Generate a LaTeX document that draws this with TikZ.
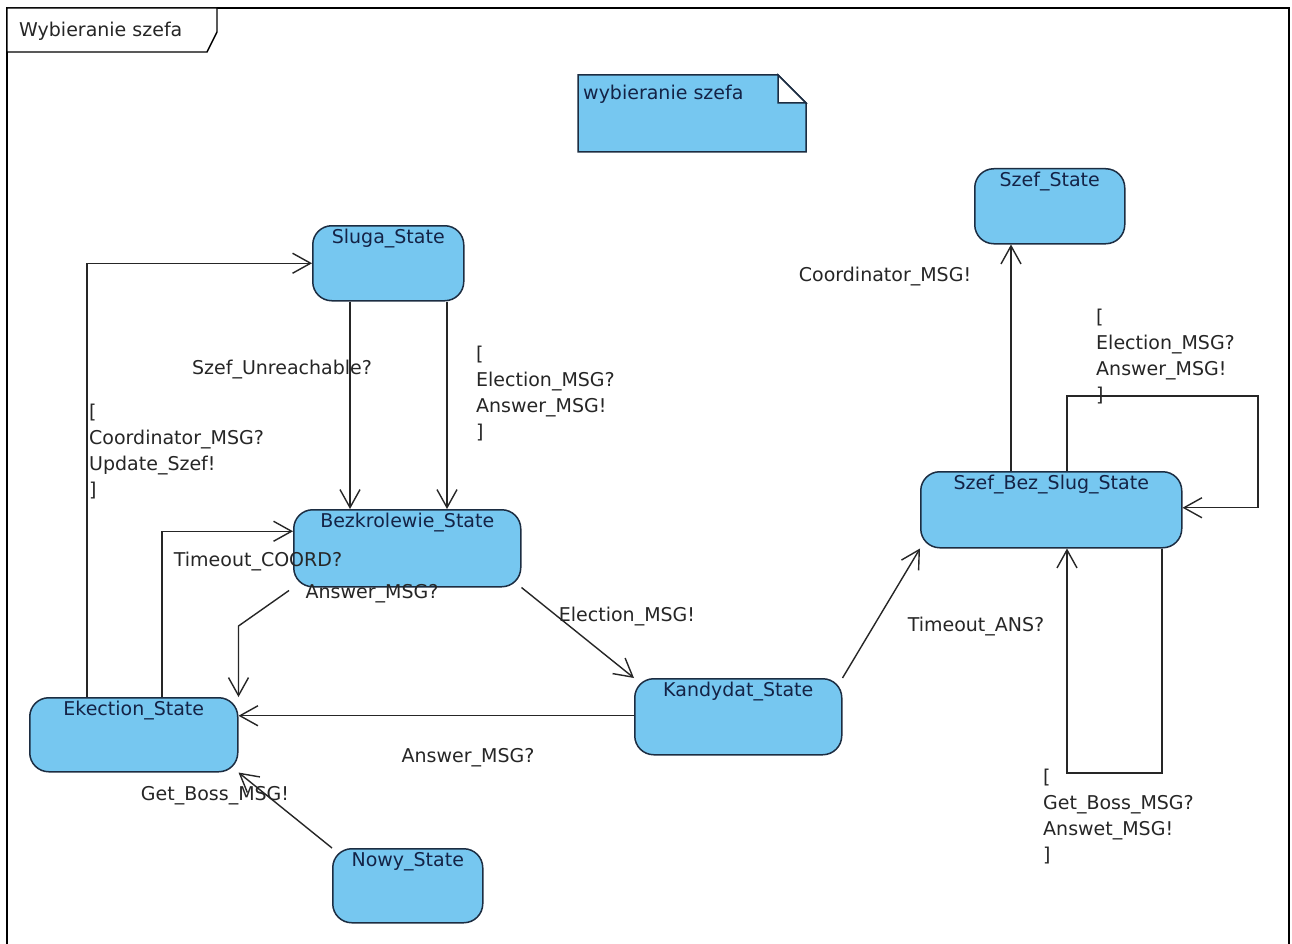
\documentclass[tikz,border=0pt]{standalone}
\usepackage{fontspec}
\setmainfont{DejaVu Sans}
\usetikzlibrary{arrows.meta,calc}
\definecolor{stfill}{RGB}{118,199,240}
\definecolor{stline}{RGB}{28,45,66}
\definecolor{sttext}{RGB}{20,35,70}
\begin{document}
\begin{tikzpicture}[x=1pt,y=-1pt,
  state/.style={draw=stline, fill=stfill, line width=1.5pt, rounded corners=19pt, inner sep=0pt, anchor=north west},
  stlabel/.style={text=sttext, font=\fontsize{19}{26}\selectfont, inner sep=0pt},
  tlabel/.style={text=black!85, font=\fontsize{19}{26}\selectfont, inner sep=0pt, align=left},
  tr/.style={draw=black!85, line width=1.4pt, -{Straight Barb[length=18pt,width=20pt]}}]
\useasboundingbox (0,0) rectangle (1292,944);
\fill[white] (0,0) rectangle (1292,944);

% frame
\draw[black, line width=1.4pt] (7,944) -- (7,8) -- (1289,8) -- (1289,944);
\filldraw[fill=white, draw=black, line width=1.4pt] (7,8) -- (217,8) -- (217,32) -- (207,52) -- (7,52) -- cycle;
\node[tlabel, anchor=west] (frameT) at (19,31) {Wybieranie szefa};

% note
\filldraw[fill=stfill, draw=stline, line width=1.5pt] (578,75) -- (778,75) -- (806,103) -- (806,152) -- (578,152) -- cycle;
\filldraw[fill=white, draw=stline, line width=1.5pt] (778,75) -- (778,103) -- (806,103) -- cycle;
\node[stlabel, anchor=west] (noteT) at (583,94) {wybieranie szefa};

% states
\node[state, minimum width=150pt, minimum height=75pt] (szef) at (974,168) {};
\node[stlabel] (szefT) at ([yshift=-14pt]szef.north) {Szef\_State};
\node[state, minimum width=151pt, minimum height=75pt] (sluga) at (312,225) {};
\node[stlabel] (slugaT) at ([yshift=-14pt]sluga.north) {Sluga\_State};
\node[state, minimum width=261pt, minimum height=76pt] (szefbez) at (920,471) {};
\node[stlabel] (szefbezT) at ([yshift=-14pt]szefbez.north) {Szef\_Bez\_Slug\_State};
\node[state, minimum width=227pt, minimum height=77pt] (bezkr) at (293,509) {};
\node[stlabel] (bezkrT) at ([yshift=-14pt]bezkr.north) {Bezkrolewie\_State};
\node[state, minimum width=207pt, minimum height=76pt] (kandydat) at (634,678) {};
\node[stlabel] (kandydatT) at ([yshift=-14pt]kandydat.north) {Kandydat\_State};
\node[state, minimum width=208pt, minimum height=74pt] (ekection) at (29,697) {};
\node[stlabel] (ekectionT) at ([yshift=-14pt]ekection.north) {Ekection\_State};
\node[state, minimum width=150pt, minimum height=74pt] (nowy) at (332,848) {};
\node[stlabel] (nowyT) at ([yshift=-14pt]nowy.north) {Nowy\_State};

% Sluga -> Bezkrolewie
\coordinate (a1) at ([xshift=38pt]sluga.south west);
\draw[tr] (a1) -- (a1 |- bezkr.north);
\coordinate (a2) at ([xshift=135pt]sluga.south west);
\draw[tr] (a2) -- (a2 |- bezkr.north);
\node[tlabel] (l1) at (282,370) {Szef\_Unreachable?};
\node[tlabel, anchor=west] (l2) at (476,394) {[\\Election\_MSG?\\Answer\_MSG!\\]};

% Ekection -> Sluga
\coordinate (a3) at ([xshift=58pt]ekection.north west);
\draw[tr] (a3) |- (sluga.west);
\node[tlabel, anchor=west] (l3) at (89,452) {[\\Coordinator\_MSG?\\Update\_Szef!\\]};

% Ekection -> Bezkrolewie
\coordinate (a4) at ([xshift=133pt]ekection.north west);
\draw[tr] (a4) |- ([yshift=17pt]bezkr.west);
\node[tlabel] (l4) at (258,562) {Timeout\_COORD?};

% Bezkrolewie -> Ekection
\coordinate (b5) at (ekection.north east |- 0,626);
\draw[tr] ([xshift=-4pt,yshift=-3pt]bezkr.south west) -- (b5) -- (ekection.north east);
\node[tlabel] (l5) at (372,594) {Answer\_MSG?};

% Bezkrolewie -> Kandydat
\draw[tr] (bezkr.south east) -- (kandydat.north west);
\node[tlabel] (l6) at (627,617) {Election\_MSG!};

% Kandydat -> Ekection
\draw[tr] ([yshift=1pt]kandydat.west) -- ([yshift=1pt]kandydat.west -| ekection.east);
\node[tlabel] (l7) at (468,758) {Answer\_MSG?};

% Nowy -> Ekection
\draw[tr] (nowy.north west) -- (ekection.south east);
\node[tlabel] (l8) at (215,796) {Get\_Boss\_MSG!};

% Kandydat -> Szef_Bez_Slug
\draw[tr] (kandydat.north east) -- (szefbez.south west);
\node[tlabel] (l9) at (976,627) {Timeout\_ANS?};

% Szef_Bez_Slug -> Szef
\coordinate (a10) at ([xshift=91pt]szefbez.north west);
\draw[tr] (a10) -- (a10 |- szef.south);
\node[tlabel] (l10) at (885,277) {Coordinator\_MSG!};

% self loop top
\coordinate (a11) at ([xshift=147pt]szefbez.north west);
\coordinate (c11) at (1258,396);
\draw[tr] (a11) |- (c11) |- ([yshift=2pt]szefbez.east);
\node[tlabel, anchor=west] (l11) at (1096,357) {[\\Election\_MSG?\\Answer\_MSG!\\]};

% self loop bottom
\coordinate (a12) at ([xshift=242pt]szefbez.south west);
\coordinate (c12) at (1067,773);
\draw[tr] (a12) |- (c12) -- (c12 |- szefbez.south);
\node[tlabel, anchor=west] (l12) at (1043,817) {[\\Get\_Boss\_MSG?\\Answet\_MSG!\\]};
\end{tikzpicture}
\end{document}
